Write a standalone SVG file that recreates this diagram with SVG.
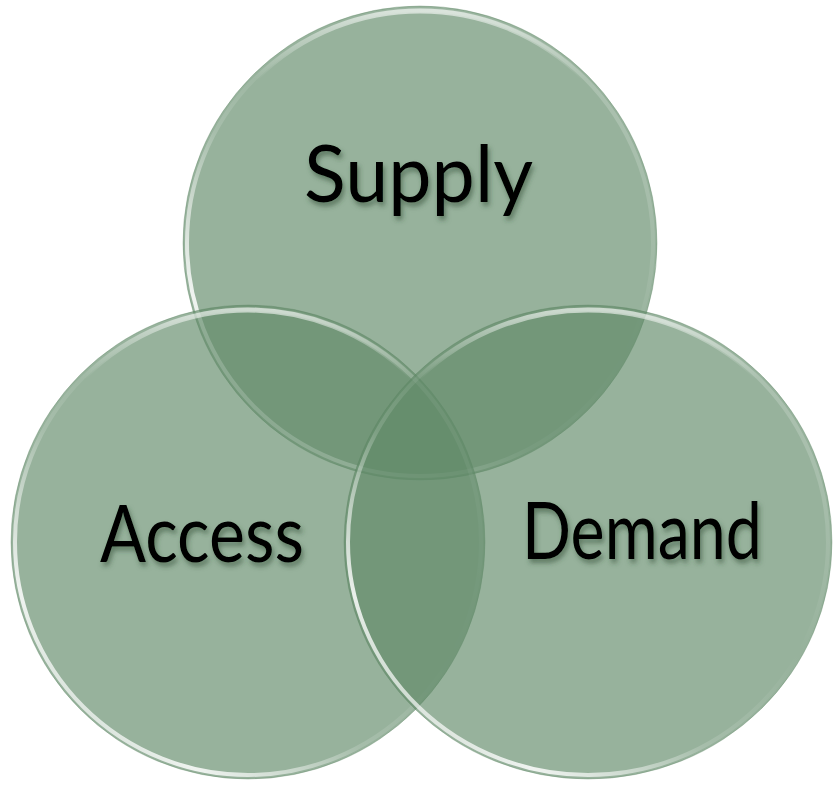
<svg xmlns="http://www.w3.org/2000/svg" width="834" height="785" viewBox="0 0 834 785">
  <defs>
    <linearGradient id="rim" x1="0" y1="1" x2="1" y2="0">
      <stop offset="0" stop-color="#ffffff" stop-opacity="0.2"/>
      <stop offset="0.2" stop-color="#ffffff" stop-opacity="0.85"/>
      <stop offset="0.4" stop-color="#ffffff" stop-opacity="0.15"/>
      <stop offset="0.6" stop-color="#ffffff" stop-opacity="0"/>
      <stop offset="1" stop-color="#ffffff" stop-opacity="0.3"/>
    </linearGradient>
    <linearGradient id="toprim" x1="0" y1="0" x2="0" y2="1">
      <stop offset="0" stop-color="#ffffff" stop-opacity="0.6"/>
      <stop offset="0.15" stop-color="#ffffff" stop-opacity="0"/>
      <stop offset="1" stop-color="#ffffff" stop-opacity="0"/>
    </linearGradient>
    <filter id="shadow" x="-10%" y="-10%" width="120%" height="130%">
      <feGaussianBlur in="SourceAlpha" stdDeviation="2.5"/>
      <feOffset dx="2" dy="4" result="b"/>
      <feFlood flood-color="#2e4a32" flood-opacity="0.55"/>
      <feComposite in2="b" operator="in"/>
      <feMerge><feMergeNode/><feMergeNode in="SourceGraphic"/></feMerge>
    </filter>
  </defs>
  <style>
    .disc { fill: rgb(96,137,103); fill-opacity: 0.65; stroke: #5d8462; stroke-opacity: 0.35; stroke-width: 1; }
    .rim { fill: none; stroke: url(#rim); stroke-width: 4; }
    .trim { fill: none; stroke: url(#toprim); stroke-width: 5; }
    .label { font-family: "Lato", "Liberation Sans", sans-serif; font-size: 80px; fill: #000000; filter: url(#shadow); }
  </style>
  <rect width="834" height="785" fill="#ffffff"/>
  <g id="supply">
    <circle class="disc" cx="420" cy="243" r="237"/>
    <circle class="rim" cx="420" cy="243" r="233"/>
    <circle class="trim" cx="420" cy="243" r="232"/>
  </g>
  <g id="access">
    <circle class="disc" cx="248" cy="542" r="237"/>
    <circle class="rim" cx="248" cy="542" r="233"/>
    <circle class="trim" cx="248" cy="542" r="232"/>
  </g>
  <g id="demand">
    <ellipse class="disc" cx="588" cy="542" rx="244" ry="237"/>
    <ellipse class="rim" cx="588" cy="542" rx="240" ry="233"/>
    <ellipse class="trim" cx="588" cy="542" rx="239" ry="232"/>
  </g>
  <g id="connectors"></g>
  <g id="labels">
    <text class="label" x="304" y="202" textLength="229" lengthAdjust="spacingAndGlyphs">Supply</text>
    <text class="label" x="100" y="562" textLength="204" lengthAdjust="spacingAndGlyphs">Access</text>
    <text class="label" x="522" y="559" textLength="240" lengthAdjust="spacingAndGlyphs">Demand</text>
  </g>
</svg>
